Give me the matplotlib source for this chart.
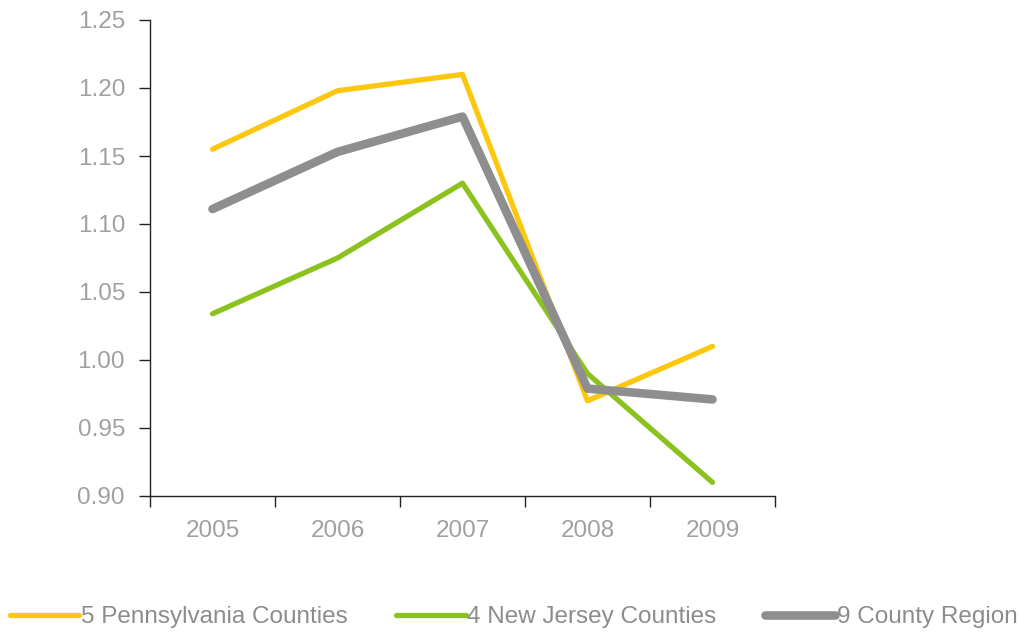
import matplotlib
matplotlib.use("Agg")
import matplotlib.pyplot as plt

# 数据
years = ["2005", "2006", "2007", "2008", "2009"]
pa_counties = [1.155, 1.198, 1.210, 0.970, 1.010]
nj_counties = [1.034, 1.075, 1.130, 0.990, 0.910]
region = [1.111, 1.153, 1.179, 0.979, 0.971]
y_ticks = [0.90, 0.95, 1.00, 1.05, 1.10, 1.15, 1.20, 1.25]

plt.rcParams['font.family'] = ['Liberation Sans', 'DejaVu Sans']

fig = plt.figure(figsize=(10.27, 6.32), dpi=100)
ax = fig.add_axes([150 / 1027, 1 - 496 / 632, 625 / 1027, 476 / 632])

x = range(len(years))
ax.plot(x, pa_counties, color='#FBC70F', lw=3.8, label='5 Pennsylvania Counties', solid_capstyle='round')
ax.plot(x, nj_counties, color='#8CC21E', lw=3.8, label='4 New Jersey Counties', solid_capstyle='round')
ax.plot(x, region, color='#8E8E8E', lw=6.2, label='9 County Region', solid_capstyle='round')

ax.set_xlim(-0.5, 4.5)
ax.set_ylim(0.90, 1.25)
ax.set_yticks(y_ticks)
ax.set_yticklabels([f"{v:.2f}" for v in y_ticks])

# x 轴刻度在类别之间，标签在中间
ax.set_xticks([i - 0.5 for i in range(len(years) + 1)])
ax.set_xticklabels([])
ax.set_xticks(list(x), minor=True)
ax.set_xticklabels(years, minor=True)
ax.tick_params(axis='x', which='minor', length=0, pad=17, labelsize=17.5, labelcolor='#A0A0A0')
ax.tick_params(axis='x', which='major', length=8, width=1, color='#222222', direction='out')
ax.tick_params(axis='y', length=8, width=1, color='#222222', direction='out', pad=10,
               labelsize=17.5, labelcolor='#A0A0A0')

for s in ['top', 'right']:
    ax.spines[s].set_visible(False)
for s in ['left', 'bottom']:
    ax.spines[s].set_color('#222222')
    ax.spines[s].set_linewidth(1)

fig.legend(loc='center', bbox_to_anchor=(0.5, 1 - 617 / 632), ncol=3, frameon=False,
           fontsize=17.5, labelcolor='#8C8C8C', handlelength=2.85, handletextpad=0.08,
           columnspacing=2.0, borderpad=0)

fig.savefig('out.png', dpi=100, facecolor='white')
